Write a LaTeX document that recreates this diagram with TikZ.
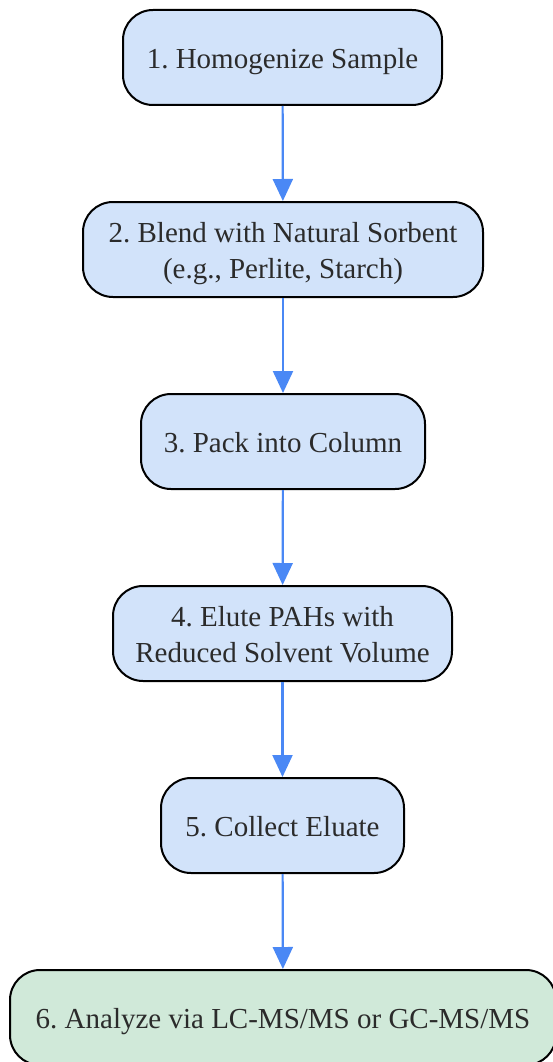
\documentclass[tikz,border=0pt]{standalone}
\usepackage{fontspec}
\setmainfont{Liberation Serif}
\usetikzlibrary{arrows.meta}
\definecolor{boxblue}{HTML}{D2E3FA}
\definecolor{boxgreen}{HTML}{D0E9D9}
\definecolor{arrowblue}{HTML}{4A88F5}
\definecolor{txt}{HTML}{2B2B2B}
\newcommand\lowtext[1]{\raisebox{-3.5pt}[\height][\depth]{\begin{tabular}{@{}c@{}}#1\end{tabular}}}
\begin{document}
\frenchspacing
\begin{tikzpicture}[x=1pt,y=-1pt,
  stepbox/.style={draw=black, line width=2pt, rounded corners=30pt, fill=boxblue,
    align=center, text=txt, font=\fontsize{29}{36}\selectfont\frenchspacing, inner sep=0pt,
    minimum height=95pt},
  finalbox/.style={stepbox, fill=boxgreen},
  flow/.style={draw=arrowblue, line width=2.2pt, -{Triangle[length=22pt,width=20pt]}}]
\useasboundingbox (0,0) rectangle (553,1062);
\node[stepbox, minimum width=319pt] (n1) at (282.5,57.5) {\lowtext{1. Homogenize Sample}};
\node[stepbox, minimum width=400pt] (n2) at (283,249.5) {\lowtext{2. Blend with Natural Sorbent\\(e.g., Perlite, Starch)}};
\node[stepbox, minimum width=284pt] (n3) at (283,441.5) {\lowtext{3. Pack into Column}};
\node[stepbox, minimum width=339pt] (n4) at (282.5,633.5) {\lowtext{4. Elute PAHs with\\Reduced Solvent Volume}};
\node[stepbox, minimum width=243pt] (n5) at (282.5,825.5) {\lowtext{5. Collect Eluate}};
\node[finalbox, minimum width=546pt] (n6) at (283,1017.5) {\lowtext{6. Analyze via LC-MS/MS or GC-MS/MS}};
\draw[flow] (n1) -- (n2);
\draw[flow] (n2) -- (n3);
\draw[flow] (n3) -- (n4);
\draw[flow] (n4) -- (n5);
\draw[flow] (n5) -- (n6);
\end{tikzpicture}
\end{document}
